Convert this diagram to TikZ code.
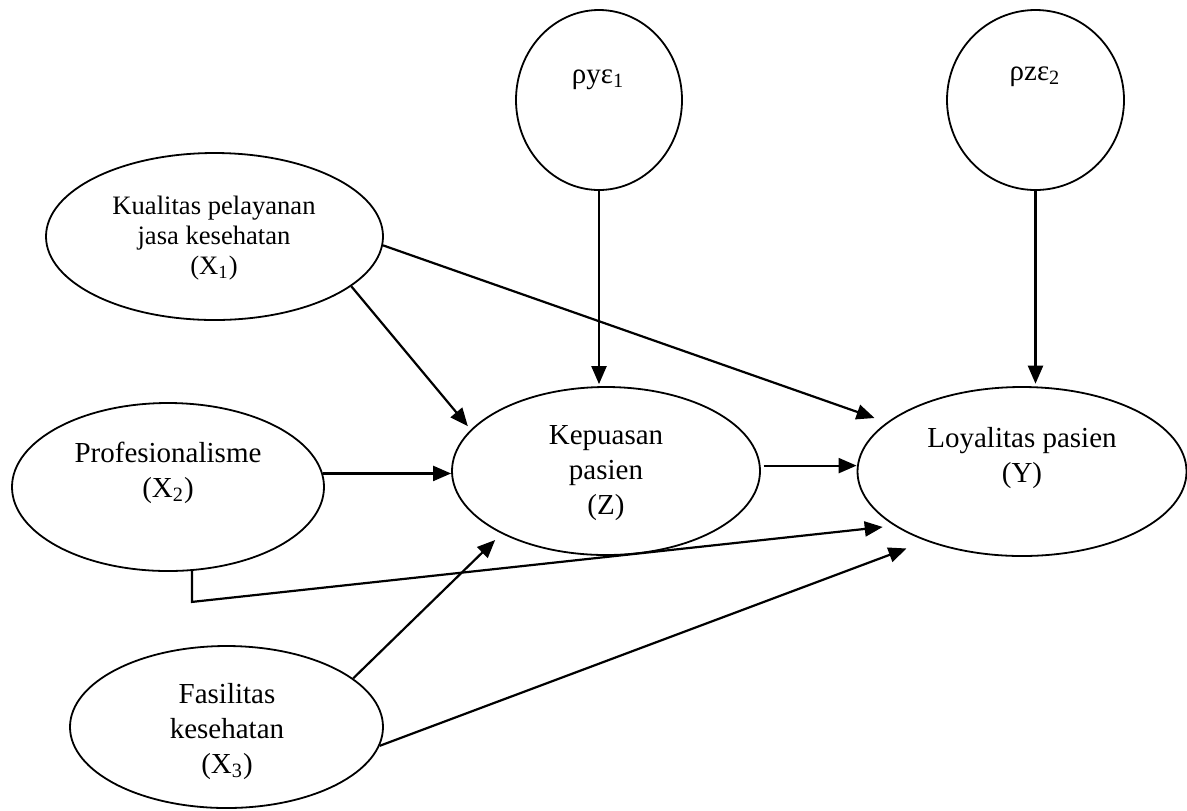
\documentclass[tikz,border=0pt]{standalone}
\usepackage{fontspec}
\setmainfont{Liberation Serif}
\usetikzlibrary{arrows.meta,shapes.geometric}
\begin{document}
\begin{tikzpicture}[x=0.5pt,y=-0.5pt,
  var/.style={draw, line width=0.9pt, ellipse, inner sep=0pt},
  lbl/.style={font=\fontsize{14.5}{17.5}\selectfont, align=center, anchor=base, inner sep=0pt},
  lblsmall/.style={font=\fontsize{13.3}{15}\selectfont, align=center, anchor=base, inner sep=0pt},
  arr/.style={line width=1.1pt, -{Triangle[length=9pt,width=7.5pt]}}]
\useasboundingbox (0,0) rectangle (1187,810);

% shapes
\node[var, minimum width=83pt, minimum height=90pt] (E1) at (599,100) {};
\node[var, minimum width=88.5pt, minimum height=90pt] (E2) at (1035.5,100) {};
\node[var, minimum width=168.5pt, minimum height=83.5pt] (X1) at (214.5,236.5) {};
\node[var, minimum width=156pt, minimum height=84pt] (X2) at (168,487) {};
\node[var, minimum width=154pt, minimum height=84pt] (Z) at (606,471) {};
\node[var, minimum width=164.5pt, minimum height=84.5pt] (Y) at (1022,471.5) {};
\node[var, minimum width=156.5pt, minimum height=81pt] (X3) at (226.5,727) {};

% texts (anchor base = baseline of last line)
\node[lbl] (tE1) at (598,83) {ρyε\textsubscript{1}};
\node[lbl] (tE2) at (1035,80) {ρzε\textsubscript{2}};
\node[lblsmall] (tX1) at (214,274) {Kualitas pelayanan\\jasa kesehatan\\(X\textsubscript{1})};
\node[lbl] (tX2) at (168,497) {Profesionalisme\\(X\textsubscript{2})};
\node[lbl] (tZ) at (606,514) {Kepuasan\\pasien\\(Z)};
\node[lbl] (tY) at (1022,482) {Loyalitas pasien\\(Y)};
\node[lbl] (tX3) at (227,773) {Fasilitas\\kesehatan\\(X\textsubscript{3})};

% connectors
\draw[arr, shorten >=1pt] (E1.south) -- (E1.south |- Z.north);
\draw[arr, shorten >=1.2pt] (E2.south) -- (E2.south |- Y.north);
\draw[arr, shorten >=2.25pt] (X1.-20.4) -- (Z.163.7);
\draw[arr, shorten >=6.5pt] (X1.-3.6) -- (Y.160.4);
\draw[arr] (X2.5.6) -- (X2.5.6 -| Z.west);
\draw[arr, shorten <=1.5pt] (Z.2.5) -- (Z.2.5 -| Y.west);
\draw[arr, shorten >=5.8pt] (X2.-74.5) -- ++(0,31) -- (Y.203.6);
\draw[arr, shorten >=4.5pt] (X3.21.7) -- (Z.211.1);
\draw[arr, shorten >=10.5pt] (X3.-7.3) -- (Y.216);
\end{tikzpicture}
\end{document}
